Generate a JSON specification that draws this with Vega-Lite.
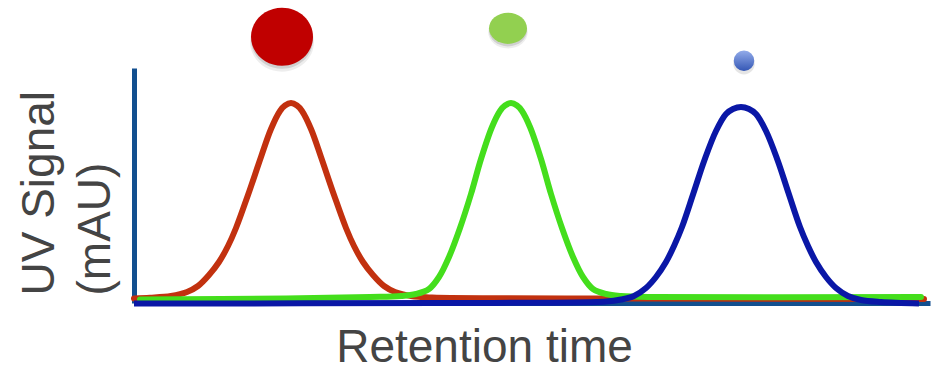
{
  "$schema": "https://vega.github.io/schema/vega-lite/v6.json",
  "width": 796,
  "height": 235,
  "autosize": {"type": "none"},
  "padding": {"left": 134, "top": 68, "right": 4, "bottom": 62},
  "background": "white",
  "config": {"view": {"stroke": null}},
  "datasets": {
    "curves": [
      {"series": "red", "t": -2, "v": 3.6},
      {"series": "red", "t": 14, "v": 4.3},
      {"series": "red", "t": 35, "v": 6},
      {"series": "red", "t": 51, "v": 10},
      {"series": "red", "t": 62, "v": 16},
      {"series": "red", "t": 73, "v": 27},
      {"series": "red", "t": 83, "v": 40},
      {"series": "red", "t": 92, "v": 56},
      {"series": "red", "t": 100, "v": 74},
      {"series": "red", "t": 112, "v": 107},
      {"series": "red", "t": 125, "v": 145},
      {"series": "red", "t": 135, "v": 173},
      {"series": "red", "t": 144, "v": 191},
      {"series": "red", "t": 149, "v": 196.5},
      {"series": "red", "t": 155, "v": 199},
      {"series": "red", "t": 161, "v": 196.5},
      {"series": "red", "t": 166, "v": 191},
      {"series": "red", "t": 175, "v": 173},
      {"series": "red", "t": 185, "v": 145},
      {"series": "red", "t": 198, "v": 107},
      {"series": "red", "t": 210, "v": 74},
      {"series": "red", "t": 218, "v": 56},
      {"series": "red", "t": 227, "v": 40},
      {"series": "red", "t": 237, "v": 27},
      {"series": "red", "t": 248, "v": 16},
      {"series": "red", "t": 259, "v": 10},
      {"series": "red", "t": 275, "v": 6},
      {"series": "red", "t": 296, "v": 4.5},
      {"series": "red", "t": 500, "v": 3.5},
      {"series": "red", "t": 788, "v": 3},
      {"series": "green", "t": 4, "v": 2.5},
      {"series": "green", "t": 150, "v": 3.5},
      {"series": "green", "t": 234, "v": 5},
      {"series": "green", "t": 265, "v": 6},
      {"series": "green", "t": 280, "v": 8},
      {"series": "green", "t": 293, "v": 13},
      {"series": "green", "t": 303, "v": 25},
      {"series": "green", "t": 313, "v": 45},
      {"series": "green", "t": 324, "v": 74},
      {"series": "green", "t": 335, "v": 108},
      {"series": "green", "t": 345, "v": 143},
      {"series": "green", "t": 356, "v": 175},
      {"series": "green", "t": 364, "v": 191},
      {"series": "green", "t": 369, "v": 196.5},
      {"series": "green", "t": 375, "v": 199},
      {"series": "green", "t": 381, "v": 196.5},
      {"series": "green", "t": 386, "v": 191},
      {"series": "green", "t": 394, "v": 175},
      {"series": "green", "t": 405, "v": 143},
      {"series": "green", "t": 415, "v": 108},
      {"series": "green", "t": 426, "v": 74},
      {"series": "green", "t": 437, "v": 45},
      {"series": "green", "t": 447, "v": 25},
      {"series": "green", "t": 457, "v": 13},
      {"series": "green", "t": 470, "v": 8},
      {"series": "green", "t": 485, "v": 6},
      {"series": "green", "t": 516, "v": 5},
      {"series": "green", "t": 785, "v": 5},
      {"series": "blue", "t": -2, "v": -1.5},
      {"series": "blue", "t": 300, "v": -1},
      {"series": "blue", "t": 470, "v": 0.5},
      {"series": "blue", "t": 485, "v": 2.5},
      {"series": "blue", "t": 498, "v": 6},
      {"series": "blue", "t": 510, "v": 14},
      {"series": "blue", "t": 520, "v": 25},
      {"series": "blue", "t": 530, "v": 40},
      {"series": "blue", "t": 538, "v": 56},
      {"series": "blue", "t": 546, "v": 75},
      {"series": "blue", "t": 557.5, "v": 109},
      {"series": "blue", "t": 568.5, "v": 142},
      {"series": "blue", "t": 580, "v": 171},
      {"series": "blue", "t": 590, "v": 188},
      {"series": "blue", "t": 597, "v": 193},
      {"series": "blue", "t": 605, "v": 195},
      {"series": "blue", "t": 613, "v": 193},
      {"series": "blue", "t": 620, "v": 188},
      {"series": "blue", "t": 630, "v": 171},
      {"series": "blue", "t": 641.5, "v": 142},
      {"series": "blue", "t": 652.5, "v": 109},
      {"series": "blue", "t": 664, "v": 75},
      {"series": "blue", "t": 672, "v": 56},
      {"series": "blue", "t": 680, "v": 40},
      {"series": "blue", "t": 690, "v": 25},
      {"series": "blue", "t": 700, "v": 14},
      {"series": "blue", "t": 712, "v": 6},
      {"series": "blue", "t": 725, "v": 2},
      {"series": "blue", "t": 745, "v": 0},
      {"series": "blue", "t": 783, "v": -1.5}
    ],
    "spots": [
      {"name": "red", "t": 146, "v": 265.3},
      {"name": "green", "t": 372, "v": 273.7},
      {"name": "blue", "t": 608, "v": 241.3}
    ]
  },
  "encoding": {
    "x": {
      "field": "t", "type": "quantitative",
      "scale": {"domain": [-2, 794], "nice": false, "zero": false},
      "axis": {
        "domain": true, "domainColor": "#124f8f", "domainWidth": 5,
        "ticks": false, "labels": false, "grid": false,
        "title": "Retention time",
        "titleFont": "Liberation Sans", "titleFontSize": 46, "titleFontWeight": "normal",
        "titleColor": "#444444",
        "titleX": 350, "titleY": 58, "titleAlign": "center", "titleBaseline": "alphabetic"
      }
    },
    "y": {
      "field": "v", "type": "quantitative",
      "scale": {"domain": [-1, 234], "nice": false, "zero": false},
      "axis": {
        "domain": true, "domainColor": "#124f8f", "domainWidth": 5,
        "ticks": false, "labels": false, "grid": false,
        "title": ["UV Signal", "(mAU)"],
        "titleFont": "Liberation Sans", "titleFontSize": 46, "titleFontWeight": "normal",
        "titleColor": "#444444", "titleLineHeight": 56.5,
        "titleAngle": 270, "titleX": -81, "titleY": 227,
        "titleAlign": "left", "titleBaseline": "alphabetic"
      }
    }
  },
  "layer": [
    {
      "data": {"name": "curves"},
      "transform": [{"filter": "datum.series === 'red'"}],
      "mark": {"type": "line", "color": "#c2310f", "strokeWidth": 6, "interpolate": "catmull-rom", "strokeCap": "round"}
    },
    {
      "data": {"name": "curves"},
      "transform": [{"filter": "datum.series === 'green'"}],
      "mark": {"type": "line", "color": "#44de1c", "strokeWidth": 6, "interpolate": "catmull-rom", "strokeCap": "round"}
    },
    {
      "data": {"name": "curves"},
      "transform": [{"filter": "datum.series === 'blue'"}],
      "mark": {"type": "line", "color": "#0a17a6", "strokeWidth": 6, "interpolate": "catmull-rom", "strokeCap": "butt"}
    },
    {
      "data": {"name": "spots"},
      "transform": [{"filter": "datum.name === 'red'"}],
      "mark": {"type": "point", "filled": true, "color": "#000000", "opacity": 0.07, "yOffset": 5, "size": 4100, "shape": "M -1 0 A 1 0.935 0 1 0 1 0 A 1 0.935 0 1 0 -1 0 Z", "clip": false}
    },
    {
      "data": {"name": "spots"},
      "transform": [{"filter": "datum.name === 'red'"}],
      "mark": {"type": "point", "filled": true, "color": "#000000", "opacity": 0.12, "yOffset": 3, "size": 3844, "shape": "M -1 0 A 1 0.935 0 1 0 1 0 A 1 0.935 0 1 0 -1 0 Z", "clip": false}
    },
    {
      "data": {"name": "spots"},
      "transform": [{"filter": "datum.name === 'red'"}],
      "mark": {"type": "point", "filled": true, "color": "#c00000", "opacity": 1, "size": 3844, "shape": "M -1 0 A 1 0.935 0 1 0 1 0 A 1 0.935 0 1 0 -1 0 Z", "clip": false}
    },
    {
      "data": {"name": "spots"},
      "transform": [{"filter": "datum.name === 'green'"}],
      "mark": {"type": "point", "filled": true, "color": "#000000", "opacity": 0.07, "yOffset": 4, "size": 1560, "shape": "M -1 0 A 1 0.82 0 1 0 1 0 A 1 0.82 0 1 0 -1 0 Z", "clip": false}
    },
    {
      "data": {"name": "spots"},
      "transform": [{"filter": "datum.name === 'green'"}],
      "mark": {"type": "point", "filled": true, "color": "#000000", "opacity": 0.12, "yOffset": 2.5, "size": 1444, "shape": "M -1 0 A 1 0.82 0 1 0 1 0 A 1 0.82 0 1 0 -1 0 Z", "clip": false}
    },
    {
      "data": {"name": "spots"},
      "transform": [{"filter": "datum.name === 'green'"}],
      "mark": {"type": "point", "filled": true, "color": "#92d050", "opacity": 1, "size": 1444, "shape": "M -1 0 A 1 0.82 0 1 0 1 0 A 1 0.82 0 1 0 -1 0 Z", "clip": false}
    },
    {
      "data": {"name": "spots"},
      "transform": [{"filter": "datum.name === 'blue'"}],
      "mark": {"type": "point", "filled": true, "color": "#000000", "opacity": 0.1, "yOffset": 3, "size": 460, "shape": "circle", "clip": false}
    },
    {
      "data": {"name": "spots"},
      "transform": [{"filter": "datum.name === 'blue'"}],
      "mark": {"type": "point", "filled": true, "opacity": 1, "size": 420, "shape": "circle", "clip": false,
        "strokeWidth": 0,
        "fill": {"gradient": "linear", "x1": 0, "y1": 0, "x2": 0, "y2": 1,
          "stops": [{"offset": 0, "color": "#93acea"}, {"offset": 1, "color": "#3457b5"}]}}
    }
  ]
}
